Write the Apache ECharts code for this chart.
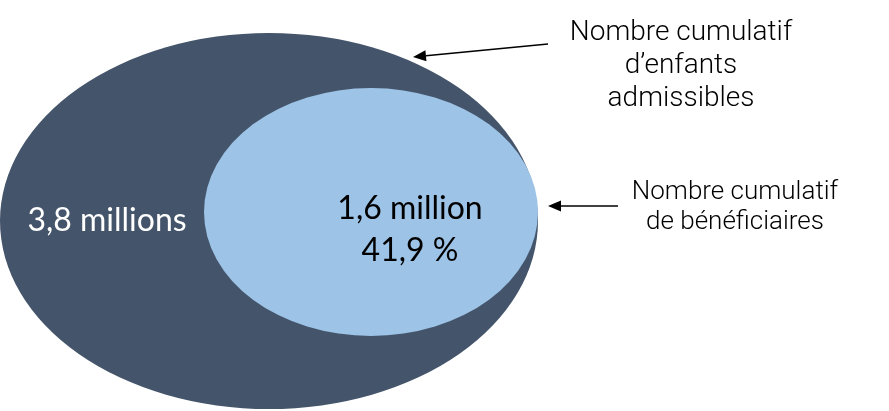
<!DOCTYPE html>
<html><head><meta charset="utf-8">
<script src="https://cdn.jsdelivr.net/npm/echarts@6/dist/echarts.min.js"></script>
<style>html,body{margin:0;padding:0;background:#fff}#c{width:889px;height:411px}</style>
</head><body><div id="c"></div>
<script>
// Data
const setNames = ['Nombre cumulatif\nd’enfants\nadmissibles', 'Nombre cumulatif\nde bénéficiaires'];
const setValues = [3.8, 1.6]; // millions
const valueLabels = ['3,8 millions', '1,6 million\n41,9 %'];
const shareOfEligible = 41.9;

// Layout (axis units = pixels of the 889x411 canvas)
const ellipses = [
  {cx: 269, cy: 221, rx: 269, ry: 188, color: '#44546A', label: [107, 221], labelColor: '#ffffff'},
  {cx: 371, cy: 212, rx: 167, ry: 124, color: '#9DC3E6', label: [410, 230], labelColor: '#000000'}
];
const callouts = [
  {text: [681, 66], from: [548, 44], to: [413, 57], size: 28, lh: 33},
  {text: [735, 207], from: [618, 206], to: [548, 206], size: 26, lh: 30}
];

const chart = echarts.init(document.getElementById('c'));
function ellipsePath(x, y, rx, ry) {
  return 'M' + (x - rx) + ' ' + y + ' A' + rx + ' ' + ry + ' 0 1 0 ' + (x + rx) + ' ' + y +
         ' A' + rx + ' ' + ry + ' 0 1 0 ' + (x - rx) + ' ' + y + ' Z';
}
chart.setOption({
  animation: false,
  grid: {left: 0, right: 0, top: 0, bottom: 0},
  xAxis: {type: 'value', min: 0, max: 889, show: false},
  yAxis: {type: 'value', min: 0, max: 411, inverse: true, show: false},
  series: [{
    type: 'custom',
    coordinateSystem: 'cartesian2d',
    data: setValues.map((v, i) => [i, v]),
    renderItem: function (params, api) {
      const i = api.value(0);
      const e = ellipses[i];
      const c = api.coord([e.cx, e.cy]);
      const s = api.size([e.rx, e.ry]);
      const lp = api.coord(e.label);
      return {
        type: 'group',
        children: [
          {type: 'path', shape: {pathData: ellipsePath(c[0], c[1], s[0], s[1])}, style: {fill: e.color}},
          {type: 'text', x: lp[0], y: lp[1], style: {text: valueLabels[i], fill: e.labelColor,
            font: '32px Lato', align: 'center', verticalAlign: 'middle', lineHeight: 42}}
        ]
      };
    }
  }, {
    type: 'custom',
    coordinateSystem: 'cartesian2d',
    data: setNames.map((n, i) => [i]),
    z: 5,
    renderItem: function (params, api) {
      const i = api.value(0);
      const k = callouts[i];
      const a = api.coord(k.from), b = api.coord(k.to), t = api.coord(k.text);
      const ang = Math.atan2(b[1] - a[1], b[0] - a[0]);
      const L = 13, W = 5.5;
      const bx = b[0] - L * Math.cos(ang), by = b[1] - L * Math.sin(ang);
      const nx = -Math.sin(ang), ny = Math.cos(ang);
      return {
        type: 'group',
        children: [
          {type: 'line', shape: {x1: a[0], y1: a[1], x2: bx, y2: by}, style: {stroke: '#000', lineWidth: 1.5}},
          {type: 'polygon', shape: {points: [[b[0], b[1]], [bx + nx * W, by + ny * W], [bx - nx * W, by - ny * W]]}, style: {fill: '#000'}},
          {type: 'text', x: t[0], y: t[1], style: {text: setNames[i], fill: '#000',
            font: '300 ' + k.size + 'px Roboto', align: 'center', verticalAlign: 'middle', lineHeight: k.lh}}
        ]
      };
    }
  }]
});
</script></body></html>
